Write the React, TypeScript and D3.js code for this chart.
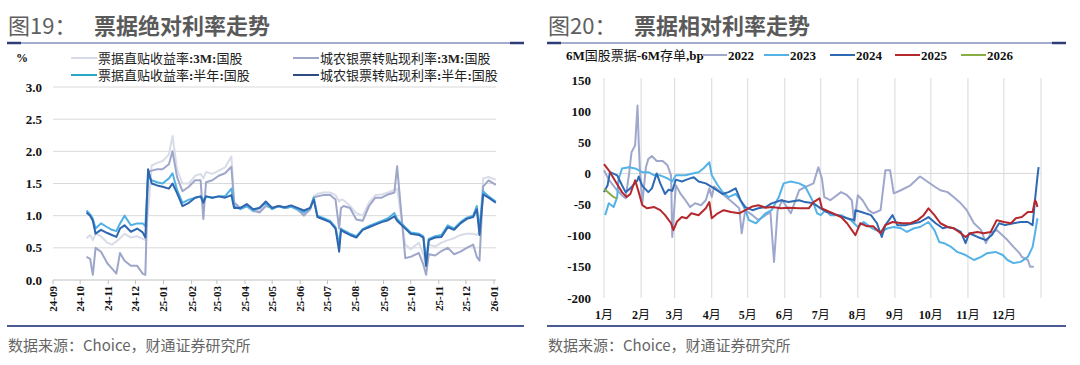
import React from 'react';
import * as d3 from 'd3';

// ---------- left chart: 票据绝对利率走势 (%) ----------
const leftDates = [
  '2024-10-08', '2024-10-12', '2024-10-15', '2024-10-18', '2024-10-24', '2024-10-31', '2024-11-05', '2024-11-10',
  '2024-11-14', '2024-11-19', '2024-11-26', '2024-12-03', '2024-12-09', '2024-12-12', '2024-12-15', '2024-12-19',
  '2024-12-25', '2024-12-31', '2025-01-07', '2025-01-11', '2025-01-16', '2025-01-22', '2025-01-29', '2025-02-05',
  '2025-02-11', '2025-02-14', '2025-02-17', '2025-02-24', '2025-03-03', '2025-03-10', '2025-03-17', '2025-03-20',
  '2025-03-27', '2025-04-03', '2025-04-10', '2025-04-17', '2025-04-24', '2025-05-01', '2025-05-08', '2025-05-15',
  '2025-05-22', '2025-05-29', '2025-06-05', '2025-06-12', '2025-06-16', '2025-06-20', '2025-06-27', '2025-07-04',
  '2025-07-10', '2025-07-14', '2025-07-16', '2025-07-19', '2025-07-26', '2025-08-02', '2025-08-09', '2025-08-16',
  '2025-08-23', '2025-08-30', '2025-09-06', '2025-09-13', '2025-09-16', '2025-09-25', '2025-10-01', '2025-10-10',
  '2025-10-15', '2025-10-18', '2025-10-21', '2025-10-28', '2025-11-04', '2025-11-11', '2025-11-18', '2025-11-25',
  '2025-12-02', '2025-12-09', '2025-12-13', '2025-12-16', '2025-12-20', '2025-12-26', '2026-01-03',
];
// 票据直贴收益率:3M:国股
const zhitie3M = [
  0.65, 0.70, 0.62, 0.72, 0.68, 0.58, 0.55, 0.60, 0.65, 0.72, 0.66, 0.68, 0.64, 0.62, 1.05, 1.78,
  1.82, 1.85, 1.95, 2.24, 1.72, 1.50, 1.50, 1.62, 1.65, 1.58, 1.68, 1.65, 1.70, 1.75, 1.92, 1.22,
  1.10, 1.14, 1.06, 1.08, 1.16, 1.12, 1.15, 1.12, 1.14, 1.08, 1.02, 1.10, 1.30, 1.34, 1.36, 1.36,
  1.32, 1.22, 1.25, 1.24, 1.15, 1.04, 1.00, 1.20, 1.32, 1.33, 1.36, 1.40, 1.42, 0.55, 0.48, 0.58,
  0.40, 0.20, 0.55, 0.52, 0.58, 0.62, 0.65, 0.70, 0.72, 0.72, 0.70, 0.75, 1.58, 1.60, 1.56,
];
// 城农银票转贴现利率:3M:国股
const chengnong3M = [
  0.36, 0.33, 0.08, 0.50, 0.44, 0.26, 0.18, 0.10, 0.42, 0.30, 0.22, 0.22, 0.10, 0.08, 1.68, 1.70,
  1.72, 1.72, 1.80, 2.00, 1.60, 1.38, 1.45, 1.55, 1.55, 0.95, 1.52, 1.55, 1.62, 1.66, 1.76, 1.20,
  1.12, 1.15, 1.08, 1.05, 1.15, 1.12, 1.15, 1.12, 1.14, 1.10, 1.00, 1.10, 1.28, 1.30, 1.32, 1.32,
  1.25, 0.80, 1.12, 1.15, 1.12, 0.94, 0.92, 1.15, 1.28, 1.28, 1.33, 1.36, 1.77, 0.34, 0.36, 0.42,
  0.24, 0.08, 0.40, 0.38, 0.45, 0.50, 0.40, 0.44, 0.50, 0.55, 0.36, 0.30, 1.45, 1.55, 1.48,
];
// 票据直贴收益率:半年:国股
const zhitie6M = [
  1.08, 1.02, 0.95, 0.80, 0.88, 0.82, 0.78, 0.76, 0.88, 1.00, 0.85, 0.88, 0.88, 0.84, 1.62, 1.55,
  1.52, 1.50, 1.58, 1.66, 1.40, 1.20, 1.25, 1.28, 1.30, 1.25, 1.30, 1.28, 1.30, 1.30, 1.42, 1.15,
  1.10, 1.15, 1.08, 1.12, 1.20, 1.10, 1.15, 1.12, 1.14, 1.10, 1.05, 1.12, 1.28, 1.00, 0.96, 0.92,
  0.82, 0.55, 0.80, 0.77, 0.72, 0.68, 0.79, 0.84, 0.88, 0.92, 0.96, 1.04, 0.95, 0.82, 0.74, 0.72,
  0.68, 0.30, 0.64, 0.68, 0.70, 0.85, 0.80, 0.90, 0.97, 1.00, 1.15, 0.80, 1.38, 1.30, 1.22,
];
// 城农银票转贴现利率:半年:国股
const chengnong6M = [
  1.05, 1.00, 0.92, 0.72, 0.78, 0.73, 0.70, 0.67, 0.80, 0.85, 0.75, 0.80, 0.74, 0.66, 1.72, 1.50,
  1.47, 1.45, 1.42, 1.50, 1.35, 1.15, 1.20, 1.28, 1.30, 1.20, 1.30, 1.28, 1.30, 1.28, 1.32, 1.12,
  1.12, 1.18, 1.10, 1.12, 1.22, 1.12, 1.15, 1.13, 1.16, 1.12, 1.08, 1.12, 1.25, 0.98, 0.94, 0.90,
  0.80, 0.44, 0.78, 0.75, 0.70, 0.66, 0.78, 0.82, 0.86, 0.90, 0.93, 0.99, 0.92, 0.80, 0.72, 0.70,
  0.66, 0.22, 0.62, 0.66, 0.67, 0.82, 0.78, 0.88, 0.95, 0.98, 1.10, 0.70, 1.33, 1.28, 1.20,
];
const leftYTicks = [0, 0.5, 1, 1.5, 2, 2.5, 3];

const leftSeries = [
  { name: '票据直贴收益率:3M:国股', values: zhitie3M, color: '#d8dce8', legend: '#d8dce8' },
  { name: '城农银票转贴现利率:3M:国股', values: chengnong3M, color: '#9ea6c9', legend: '#9ea6c9' },
  { name: '票据直贴收益率:半年:国股', values: zhitie6M, color: '#4fb0e3', legend: '#2aa7c4' },
  { name: '城农银票转贴现利率:半年:国股', values: chengnong6M, color: '#2e66b0', legend: '#2f4b82' },
];

// ---------- right chart: 6M国股票据-6M存单 (bp), [day of year, bp] ----------
const y2022: [number, number][] = [
  [1, 5], [5, -10], [11, -25], [16, -35], [19, -40], [22, 0], [24, 34], [27, 45], [29, 109], [30, 50], [31, 5],
  [33, -48], [36, 10], [38, 23], [41, 28], [45, 20], [50, 20], [54, 13], [57, -3], [58, -102], [61, -19], [65, -33],
  [69, -43], [73, -54], [77, -48], [82, -51], [86, -43], [89, -24], [91, -38], [93, -21], [100, -33], [108, -46],
  [114, -56], [116, -96], [119, -59], [125, -67], [130, -75], [136, -67], [140, -62], [143, -142], [146, -59],
  [150, -43], [157, -64], [164, -27], [169, -22], [176, -16], [180, 10], [183, -8], [185, -38], [190, -43],
  [199, -30], [204, -35], [208, -43], [210, -80], [213, -35], [217, -43], [222, -59], [226, -64], [232, -59],
  [236, 5], [240, 5], [243, -32], [249, -27], [257, -19], [263, -8], [265, -5], [271, -13], [277, -21], [282, -27],
  [288, -30], [293, -38], [299, -48], [304, -59], [310, -80], [316, -91], [320, -112], [324, -96], [329, -91],
  [338, -107], [343, -118], [348, -128], [350, -134], [355, -139], [357, -150], [360, -150],
];
const y2023: [number, number][] = [
  [2, -67], [5, -48], [9, -54], [12, -38], [13, -11], [16, 8], [22, 10], [27, 8], [33, 2], [38, 2], [43, -3],
  [48, -3], [54, -8], [58, -13], [61, -3], [64, -3], [69, -3], [75, 0], [80, 2], [84, 8], [89, 18], [91, -3],
  [96, -19], [100, -30], [105, -38], [111, -33], [115, -43], [119, -59], [122, -75], [128, -80], [132, -72],
  [136, -64], [141, -59], [147, -38], [151, -16], [157, -13], [164, -16], [169, -21], [175, -43], [179, -64],
  [182, -67], [186, -59], [190, -67], [199, -67], [207, -75], [213, -86], [218, -78], [225, -88], [232, -94],
  [238, -88], [243, -86], [249, -88], [254, -94], [260, -88], [265, -86], [272, -78], [277, -91], [281, -110],
  [285, -112], [291, -118], [296, -126], [303, -131], [310, -139], [316, -134], [321, -128], [328, -126],
  [334, -131], [338, -139], [343, -144], [349, -142], [355, -134], [359, -118], [361, -96], [363, -72],
];
const y2024: [number, number][] = [
  [1, -30], [4, -19], [6, 2], [12, -3], [16, -19], [19, -30], [23, -24], [29, -11], [30, -5], [33, -20], [37, -28],
  [38, -30], [41, -24], [45, 0], [48, -16], [52, -33], [55, -26], [58, -28], [61, -10], [66, -13], [70, -10],
  [76, -6], [80, -13], [86, -16], [93, -24], [100, -33], [105, -30], [111, -24], [115, -43], [119, -54], [125, -59],
  [130, -56], [136, -54], [141, -48], [149, -43], [155, -46], [164, -43], [169, -46], [176, -48], [182, -56],
  [187, -62], [196, -67], [204, -72], [210, -75], [211, -59], [216, -62], [224, -67], [229, -80], [233, -102],
  [236, -83], [242, -67], [246, -83], [253, -83], [260, -80], [265, -78], [272, -70], [278, -80], [284, -88],
  [288, -86], [293, -88], [299, -94], [303, -112], [306, -96], [313, -102], [320, -107], [325, -99], [331, -80],
  [336, -83], [343, -80], [349, -78], [355, -78], [359, -83], [361, -43], [363, -6], [364, 10],
];
const y2025: [number, number][] = [
  [1, 15], [5, 5], [11, -14], [16, -30], [20, -38], [23, -33], [27, -11], [30, -30], [33, -51], [37, -56],
  [43, -54], [48, -59], [52, -67], [57, -80], [59, -91], [62, -77], [66, -70], [70, -72], [74, -64], [80, -67],
  [86, -56], [89, -46], [91, -72], [96, -64], [101, -59], [107, -62], [114, -64], [119, -59], [125, -53],
  [130, -51], [136, -55], [141, -54], [149, -56], [155, -55], [164, -56], [172, -56], [176, -46], [181, -40],
  [183, -56], [190, -62], [199, -70], [204, -80], [211, -99], [215, -80], [221, -85], [226, -85], [232, -96],
  [236, -83], [242, -78], [250, -80], [257, -80], [263, -75], [268, -67], [272, -56], [277, -67], [282, -80],
  [288, -86], [293, -88], [299, -96], [303, -102], [307, -96], [313, -94], [318, -96], [324, -94], [329, -75],
  [335, -78], [341, -80], [345, -72], [350, -70], [355, -62], [359, -62], [361, -43], [362, -46], [363, -54],
];
const y2026: [number, number][] = [[1, -25], [3, -28], [6, -33], [9, -38], [12, -40]];

const rightSeries = [
  { name: '2022', values: y2022, color: '#9fa8cc' },
  { name: '2023', values: y2023, color: '#55b2e6' },
  { name: '2024', values: y2024, color: '#2e6ab4' },
  { name: '2025', values: y2025, color: '#b5282d' },
  { name: '2026', values: y2026, color: '#88ad42' },
];
const rightYTicks = [150, 100, 50, 0, -50, -100, -150, -200];
const monthStarts = [1, 32, 60, 91, 121, 152, 182, 213, 244, 274, 305, 335, 366];
const monthLabels = ['1月', '2月', '3月', '4月', '5月', '6月', '7月', '8月', '9月', '10月', '11月', '12月'];

const SERIF = '"Liberation Serif", "Times New Roman", serif';
const CJK = '"Noto Sans CJK SC", "Noto Sans", sans-serif';

// latin runs bold serif, CJK runs regular sans
function runs(s: string): [string, boolean][] {
  const out: [string, boolean][] = [];
  for (const ch of s) {
    const a = ch.charCodeAt(0) < 128;
    if (out.length && out[out.length - 1][1] === a) out[out.length - 1][0] += ch;
    else out.push([ch, a]);
  }
  return out;
}

function Mixed({ x, y, text, size = 13, anchor = 'start', fill = '#111', transform }: any) {
  return (
    <text x={x} y={y} fontSize={size} textAnchor={anchor} fill={fill} transform={transform}>
      {runs(text).map(([t, a], i) => (
        <tspan key={i} fontFamily={a ? SERIF : CJK} fontWeight={a ? 'bold' : 'normal'}>{t}</tspan>
      ))}
    </text>
  );
}

function Frame({ x0, x1, num, title }: { x0: number; x1: number; num: string; title: string }) {
  return (
    <g>
      <text x={x0 + 1} y={34} fontSize={22} fontFamily={CJK} fill="#5f5f5f">{num}</text>
      <text x={x0 + 87} y={34} fontSize={22} fontFamily={CJK} fontWeight="bold" fill="#5a5a5a">{title}</text>
      <line x1={x0} x2={x1} y1={43} y2={43} stroke="#8590ba" strokeWidth={1.5} />
      <line x1={x0} x2={x0 + 14} y1={43} y2={43} stroke="#2e3c78" strokeWidth={2.5} />
      <line x1={x1 - 14} x2={x1} y1={43} y2={43} stroke="#2e3c78" strokeWidth={2.5} />
      <line x1={x0} x2={x1} y1={326} y2={326} stroke="#4a5a92" strokeWidth={2} />
      <text x={x0 + 1} y={351} fontSize={15} fontFamily={CJK} fill="#666">数据来源：Choice，财通证券研究所</text>
    </g>
  );
}

function LeftChart() {
  const parse = d3.timeParse('%Y-%m-%d');
  const dates = leftDates.map((d) => parse(d) as Date);
  const x = d3.scaleTime().domain([new Date(2024, 8, 1), new Date(2026, 0, 1)]).range([53, 494]);
  const y = d3.scaleLinear().domain([0, 3]).range([280, 87]);
  const ticks = d3.timeMonth.range(new Date(2024, 8, 1), new Date(2026, 0, 2));
  const fmt = d3.timeFormat('%y-%m');
  const line = d3.line<number>().x((_, i) => x(dates[i])).y((v) => y(v));
  const legendPos = [
    [71, 58], [293, 58], [71, 75], [293, 75],
  ];
  return (
    <g>
      <text x={16} y={62} fontSize={12} fontFamily={SERIF} fontWeight="bold" fill="#111">%</text>
      {leftSeries.map((s, i) => (
        <g key={s.name}>
          <line x1={legendPos[i][0]} x2={legendPos[i][0] + 26} y1={legendPos[i][1]} y2={legendPos[i][1]} stroke={s.legend} strokeWidth={2} />
          <Mixed x={legendPos[i][0] + 27} y={legendPos[i][1] + 4.5} text={s.name} fill="#222" />
        </g>
      ))}
      {leftYTicks.map((t) => (
        <g key={t}>
          {t > 0 && <line x1={53} x2={496} y1={y(t)} y2={y(t)} stroke="#d9d9d9" strokeWidth={1} />}
          <text x={42} y={y(t) + 4.5} fontSize={13} fontFamily={SERIF} fontWeight="bold" textAnchor="end" fill="#111">
            {t.toFixed(1)}
          </text>
        </g>
      ))}
      <line x1={53} x2={496} y1={y(0)} y2={y(0)} stroke="#bfbfbf" strokeWidth={1} />
      {ticks.map((t) => (
        <g key={+t}>
          <line x1={x(t)} x2={x(t)} y1={y(0)} y2={y(0) + 4} stroke="#bfbfbf" />
          <text
            transform={`translate(${x(t) + 4},${y(0) + 6}) rotate(-90)`}
            fontSize={11}
            fontFamily={SERIF}
            fontWeight="bold"
            textAnchor="end"
            fill="#111"
          >
            {fmt(t)}
          </text>
        </g>
      ))}
      {leftSeries.map((s) => (
        <path key={s.name} d={line(s.values) || ''} fill="none" stroke={s.color} strokeWidth={2} strokeLinejoin="round" />
      ))}
    </g>
  );
}

function RightChart() {
  const x = d3.scaleLinear().domain([1, 366]).range([604, 1041]);
  const y = d3.scaleLinear().domain([-200, 150]).range([298, 80]);
  const line = d3.line<[number, number]>().x((d) => x(d[0])).y((d) => y(d[1]));
  const legendX = [702, 764, 830, 895, 961];
  return (
    <g>
      <Mixed x={566} y={60} text="6M国股票据-6M存单,bp" fill="#111" />
      {rightSeries.map((s, i) => (
        <g key={s.name}>
          <line x1={legendX[i]} x2={legendX[i] + 25} y1={55} y2={55} stroke={s.color} strokeWidth={2} />
          <text x={legendX[i] + 26} y={60} fontSize={13} fontFamily={SERIF} fontWeight="bold" fill="#111">{s.name}</text>
        </g>
      ))}
      {monthStarts.map((d) => (
        <line key={d} x1={x(d)} x2={x(d)} y1={y(150) - 2} y2={y(-200)} stroke="#d9d9d9" strokeWidth={1} />
      ))}
      <line x1={x(1)} x2={x(366)} y1={y(0)} y2={y(0)} stroke="#d9d9d9" strokeWidth={1} />
      {rightYTicks.map((t) => (
        <text key={t} x={591} y={y(t) + 4.5} fontSize={13} fontFamily={SERIF} fontWeight="bold" textAnchor="end" fill="#111">
          {t}
        </text>
      ))}
      {monthLabels.map((m, i) => (
        <Mixed key={m} x={x(monthStarts[i])} y={319} text={m} size={12} anchor="middle" />
      ))}
      {rightSeries.map((s) => (
        <path key={s.name} d={line(s.values) || ''} fill="none" stroke={s.color} strokeWidth={2} strokeLinejoin="round" />
      ))}
    </g>
  );
}

export default function App() {
  return (
    <svg width={1080} height={365} style={{ position: 'absolute', left: 0, top: 0, background: '#fff' }}>
      <rect width={1080} height={365} fill="#fff" />
      <Frame x0={7} x1={524} num="图19：" title="票据绝对利率走势" />
      <Frame x0={547} x1={1066} num="图20：" title="票据相对利率走势" />
      <LeftChart />
      <RightChart />
    </svg>
  );
}
